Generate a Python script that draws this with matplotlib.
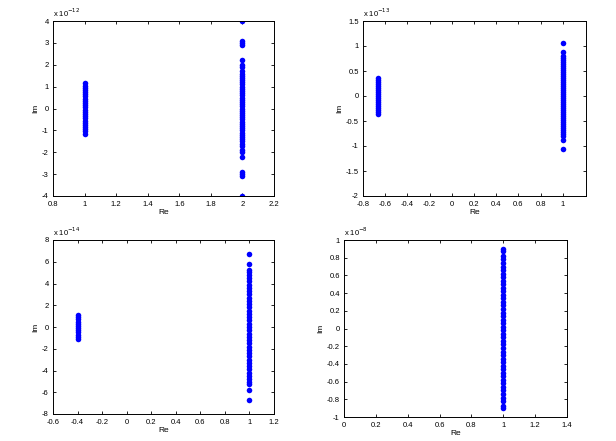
import matplotlib
matplotlib.use("Agg")
import matplotlib.pyplot as plt
from matplotlib.ticker import FuncFormatter
import numpy as np

plt.rcParams["font.family"] = ["Liberation Sans", "DejaVu Sans"]
plt.rcParams["axes.unicode_minus"] = False

# panel 1 (Im in units of 1e-12)
p1_left_re = 1.0
p1_left_im = [-1.15, -1.05, -0.95, -0.85, -0.75, -0.65, -0.55, -0.45, -0.35, -0.25, -0.15, -0.05,
              0.05, 0.15, 0.25, 0.35, 0.45, 0.55, 0.65, 0.75, 0.85, 0.95, 1.05, 1.15]
p1_right_re = 2.0
p1_right_im = [-4.0, -3.1, -3.0, -2.9, -2.2, -2.0, -1.9, -1.7, -1.6, -1.5, -1.4, -1.3, -1.2, -1.1,
               -1.0, -0.9, -0.8, -0.7, -0.6, -0.5, -0.4, -0.3, -0.2, -0.1, 0.0, 0.1, 0.2, 0.3,
               0.4, 0.5, 0.6, 0.7, 0.8, 0.9, 1.0, 1.1, 1.2, 1.3, 1.4, 1.5, 1.6, 1.7, 1.9, 2.0,
               2.2, 2.9, 3.0, 3.1, 4.0]

# panel 2 (Im in units of 1e-13)
p2_left_re = -0.667
p2_left_im = [-0.36, -0.32, -0.28, -0.24, -0.20, -0.16, -0.12, -0.08, -0.04, 0.0,
              0.04, 0.08, 0.12, 0.16, 0.20, 0.24, 0.28, 0.32, 0.36]
p2_right_re = 1.0
p2_right_im = [-1.06, -0.88, -0.80, -0.76, -0.72, -0.68, -0.64, -0.60, -0.56, -0.52, -0.48,
               -0.44, -0.40, -0.36, -0.32, -0.28, -0.24, -0.20, -0.16, -0.12, -0.08, -0.04,
               0.0, 0.04, 0.08, 0.12, 0.16, 0.20, 0.24, 0.28, 0.32, 0.36, 0.40, 0.44, 0.48,
               0.52, 0.56, 0.60, 0.64, 0.68, 0.72, 0.76, 0.80, 0.88, 1.06]

# panel 3 (Im in units of 1e-14)
p3_left_re = -0.4
p3_left_im = [-1.1, -0.9, -0.7, -0.5, -0.3, -0.1, 0.1, 0.3, 0.5, 0.7, 0.9, 1.1]
p3_right_re = 1.0
p3_right_im = [-6.7, -5.8, -5.2, -5.1, -4.8, -4.5, -4.2, -3.9, -3.6, -3.3, -3.0, -2.7, -2.4,
               -2.1, -1.8, -1.5, -1.2, -0.9, -0.6, -0.3, 0.0, 0.3, 0.6, 0.9, 1.2, 1.5, 1.8,
               2.1, 2.4, 2.7, 3.0, 3.3, 3.6, 3.9, 4.2, 4.5, 4.8, 5.1, 5.2, 5.8, 6.7]

# panel 4 (Im in units of 1e-8)
p4_re = 1.0
p4_im = [-0.90, -0.88, -0.82, -0.78, -0.74, -0.70, -0.66, -0.62, -0.58, -0.54, -0.50, -0.46,
         -0.42, -0.38, -0.34, -0.30, -0.26, -0.22, -0.18, -0.14, -0.10, -0.06, -0.02, 0.02,
         0.06, 0.10, 0.14, 0.18, 0.22, 0.26, 0.30, 0.34, 0.38, 0.42, 0.46, 0.50, 0.54, 0.58,
         0.62, 0.66, 0.70, 0.74, 0.78, 0.82, 0.88, 0.90]

panels = [
    dict(rect=[53, 21, 274, 196], data=[(p1_left_re, p1_left_im), (p1_right_re, p1_right_im)],
         xlim=(0.8, 2.2), xticks=[0.8, 1, 1.2, 1.4, 1.6, 1.8, 2, 2.2],
         ylim=(-4, 4), yticks=[-4, -3, -2, -1, 0, 1, 2, 3, 4], exp="-12"),
    dict(rect=[363, 21, 586, 196], data=[(p2_left_re, p2_left_im), (p2_right_re, p2_right_im)],
         xlim=(-0.8, 1.21), xticks=[-0.8, -0.6, -0.4, -0.2, 0, 0.2, 0.4, 0.6, 0.8, 1],
         ylim=(-2, 1.5), yticks=[-2, -1.5, -1, -0.5, 0, 0.5, 1, 1.5], exp="-13"),
    dict(rect=[53, 240, 274, 414], data=[(p3_left_re, p3_left_im), (p3_right_re, p3_right_im)],
         xlim=(-0.6, 1.2), xticks=[-0.6, -0.4, -0.2, 0, 0.2, 0.4, 0.6, 0.8, 1, 1.2],
         ylim=(-8, 8), yticks=[-8, -6, -4, -2, 0, 2, 4, 6, 8], exp="-14"),
    dict(rect=[344, 240, 567, 417], data=[(p4_re, p4_im)],
         xlim=(0, 1.4), xticks=[0, 0.2, 0.4, 0.6, 0.8, 1, 1.2, 1.4],
         ylim=(-1, 1), yticks=[-1, -0.8, -0.6, -0.4, -0.2, 0, 0.2, 0.4, 0.6, 0.8, 1], exp="-8"),
]

W, H = 616, 441
fig = plt.figure(figsize=(W / 100, H / 100), dpi=100)
fmt = FuncFormatter(lambda v, pos: "%g" % round(v, 6))

for p in panels:
    x0, y0, x1, y1 = p["rect"]
    ax = fig.add_axes([x0 / W, 1 - y1 / H, (x1 - x0) / W, (y1 - y0) / H])
    for re, im in p["data"]:
        ax.plot(np.full(len(im), re), im, "o", color="#0000ff", markersize=4.0,
                markeredgewidth=0, linestyle="none")
    ax.set_xlim(p["xlim"])
    ax.set_ylim(p["ylim"])
    ax.set_xticks(p["xticks"])
    ax.set_yticks(p["yticks"])
    ax.xaxis.set_major_formatter(fmt)
    ax.yaxis.set_major_formatter(fmt)
    ax.tick_params(direction="in", length=2.5, width=0.6, labelsize=5.5,
                   top=True, right=True)
    ax.tick_params(axis="x", pad=3.5)
    ax.tick_params(axis="y", pad=3)
    for s in ax.spines.values():
        s.set_linewidth(0.7)
    ax.set_xlabel("Re", fontsize=6, labelpad=0.5)
    ax.set_ylabel("Im", fontsize=6, labelpad=2)
    ax.text(0.0, 1.01, r"x 10$^{%s}$" % p["exp"], transform=ax.transAxes,
            fontsize=5.5, ha="left", va="bottom")

fig.savefig("out.png", dpi=100)
